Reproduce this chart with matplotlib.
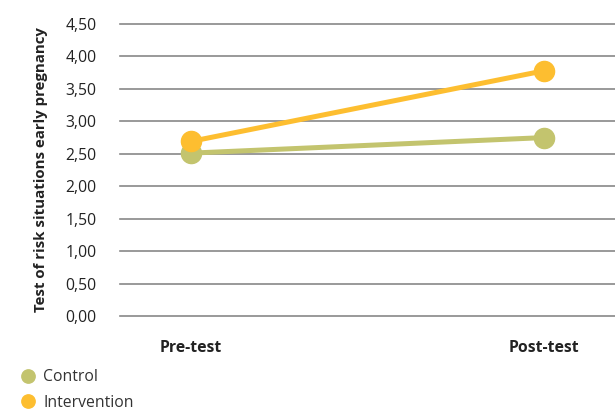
import matplotlib.pyplot as plt
from matplotlib.lines import Line2D

categories = ["Pre-test", "Post-test"]
control = [2.51, 2.75]
intervention = [2.69, 3.78]
yticks = [0.0, 0.5, 1.0, 1.5, 2.0, 2.5, 3.0, 3.5, 4.0, 4.5]

plt.rcParams['font.family'] = ['Open Sans', 'DejaVu Sans']

c_control = '#C3C46E'
c_interv = '#FDBE30'
txt = '#222222'

fig = plt.figure(figsize=(6.15, 4.12), dpi=100)
ax = fig.add_axes([0.1951, 0.233, 0.8049, 0.7087])

x = range(len(categories))
ax.plot(x, control, '-o', color=c_control, lw=3.6, ms=14.5, zorder=3)
ax.plot(x, intervention, '-o', color=c_interv, lw=3.6, ms=14.5, zorder=4)

ax.set_ylim(0, 4.5)
ax.set_xlim(-0.2, 1.2)
ax.set_yticks(yticks)
ax.set_yticklabels([f"{v:.2f}".replace('.', ',') for v in yticks], fontsize=11.3, color=txt)
ax.set_xticks(list(x))
ax.set_xticklabels(categories, fontsize=11.3, fontweight='bold', color=txt)
ax.tick_params(axis='both', length=0)
ax.tick_params(axis='x', pad=17)
ax.tick_params(axis='y', pad=17)
for s in ax.spines.values():
    s.set_visible(False)
for v in yticks:
    ax.axhline(v, color='#888888', lw=1.2, zorder=1, clip_on=False)
ax.set_ylabel("Test of risk situations early pregnancy", fontsize=10.8,
              fontweight='bold', color=txt)
ax.yaxis.set_label_coords(-0.145, 0.5)

handles = [Line2D([], [], ls='none', marker='o', ms=9.6, color=c_control),
           Line2D([], [], ls='none', marker='o', ms=9.6, color=c_interv)]
fig.legend(handles, ["Control", "Intervention"], loc='upper left',
           bbox_to_anchor=(0.0325, 0.104), frameon=False, fontsize=11.3,
           handletextpad=0.47, labelspacing=0.62, borderaxespad=0,
           borderpad=0, handlelength=1.0, labelcolor='#333333')

fig.savefig("out.png", dpi=100)
